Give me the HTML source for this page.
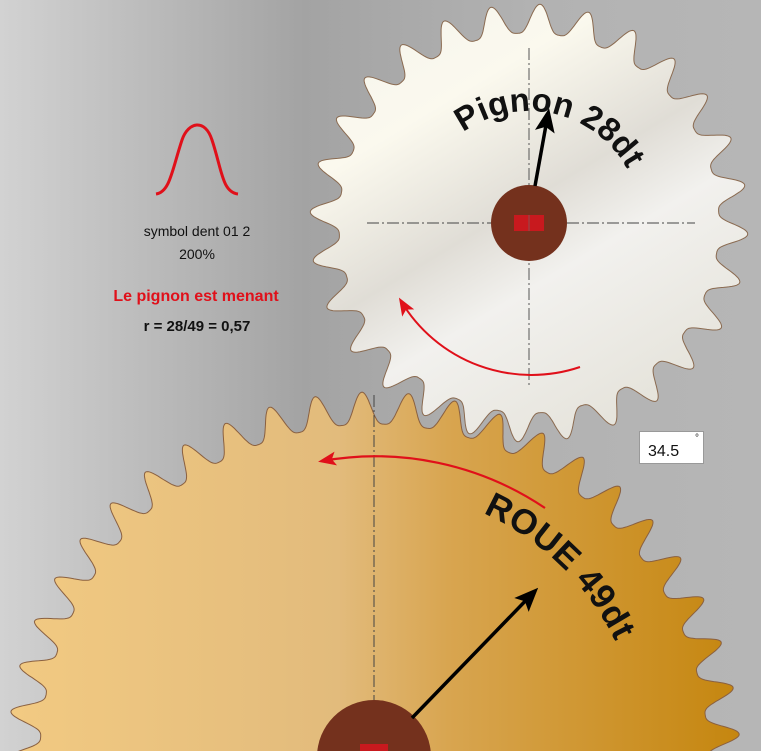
<!DOCTYPE html>
<html><head><meta charset="utf-8"><style>
html,body{margin:0;padding:0;width:761px;height:751px;overflow:hidden}
svg{display:block}
text{font-family:"Liberation Sans",sans-serif}
</style></head><body>
<svg id="s" width="761" height="751" viewBox="0 0 761 751" xmlns="http://www.w3.org/2000/svg">
<defs>
<linearGradient id="bg" x1="0" x2="1" y1="0" y2="0">
<stop offset="0" stop-color="#d2d2d2"/><stop offset="0.4" stop-color="#a3a3a3"/><stop offset="0.7" stop-color="#b2b2b2"/><stop offset="1" stop-color="#b6b6b6"/></linearGradient>
<linearGradient id="wg" gradientUnits="userSpaceOnUse" x1="10" y1="0" x2="740" y2="0">
<stop offset="0" stop-color="#f2ca82"/><stop offset="0.45" stop-color="#e2bb7c"/><stop offset="0.6" stop-color="#d8a550"/><stop offset="1" stop-color="#c5860f"/></linearGradient>
<linearGradient id="pg" x1="0" y1="0" x2="0.6" y2="1">
<stop offset="0" stop-color="#f4f3ec"/><stop offset="0.3" stop-color="#fbf9ee"/><stop offset="0.55" stop-color="#e0ddd6"/><stop offset="0.7" stop-color="#f2f1ee"/><stop offset="1" stop-color="#e6e4dc"/></linearGradient>
<marker id="ab" markerWidth="24" markerHeight="24" refX="18" refY="12" orient="auto" markerUnits="userSpaceOnUse" viewBox="0 0 24 24"><path d="M0,2 L24,12 L0,22 L5,12z" fill="#000"/></marker>
<marker id="ar" markerWidth="18" markerHeight="18" refX="14" refY="9" orient="auto" markerUnits="userSpaceOnUse" viewBox="0 0 18 18"><path d="M0,2 L18,9 L0,16 L4,9z" fill="#e0101a"/></marker>
</defs>
<rect width="761" height="751" fill="url(#bg)"/>
<path id="wheel" fill="url(#wg)" stroke="#8a6040" stroke-width="1"/>
<line x1="374" y1="395" x2="374" y2="751" stroke="#444" stroke-width="1" stroke-dasharray="12,3,2,3"/>
<path d="M545,508 A304,304 0 0 0 322,461" fill="none" stroke="#e0101a" stroke-width="2.2" marker-end="url(#ar)"/>
<circle cx="374" cy="757" r="57" fill="#74311d"/>
<rect x="360" y="744" width="28" height="10" fill="#c8191e"/>
<line x1="412" y1="718" x2="534" y2="592" stroke="#000" stroke-width="3.5" marker-end="url(#ab)"/>
<path id="warc" d="M483,513.2 A268,268 0 0 1 622.5,657.6" fill="none"/>
<text font-size="35" font-weight="bold" fill="#111"><textPath href="#warc" startOffset="0" textLength="188" lengthAdjust="spacing">ROUE 49dt</textPath></text>
<path id="pinion" fill="url(#pg)" stroke="#8a6a50" stroke-width="1"/>
<line x1="367" y1="223" x2="695" y2="223" stroke="#444" stroke-width="1" stroke-dasharray="12,3,2,3"/>
<line x1="529" y1="48" x2="529" y2="388" stroke="#555" stroke-width="1" stroke-dasharray="12,3,2,3"/>
<path d="M580,367 A152,152 0 0 1 401,301" fill="none" stroke="#e0101a" stroke-width="2" marker-end="url(#ar)"/>
<circle cx="529" cy="223" r="38" fill="#74311d"/>
<rect x="514" y="215" width="30" height="16" fill="#c8191e"/>
<line x1="529" y1="215" x2="529" y2="231" stroke="#8a5050" stroke-width="1"/>
<line x1="535" y1="186" x2="548" y2="114" stroke="#000" stroke-width="3.5" marker-end="url(#ab)"/>
<path id="parc" d="M463.2,132.4 A112,112 0 0 1 626,167" fill="none"/>
<text font-size="33" font-weight="bold" fill="#111"><textPath href="#parc" startOffset="0" textLength="190" lengthAdjust="spacing">Pignon 28dt</textPath></text>
<path d="M156,194 C170,192 172,170 182,140 C188,122 205,118 212,140 C222,170 222,192 238,194" fill="none" stroke="#e0101a" stroke-width="3"/>
<text x="197" y="236" font-size="14" text-anchor="middle" fill="#111">symbol dent 01 2</text>
<text x="197" y="259" font-size="14" text-anchor="middle" fill="#111">200%</text>
<text x="196" y="301" font-size="16" text-anchor="middle" fill="#e0101a" font-weight="bold">Le pignon est menant</text>
<text x="197" y="331" font-size="15" text-anchor="middle" fill="#111" font-weight="bold">r = 28/49 =  0,57</text>
<rect x="639.5" y="431.5" width="64" height="32" fill="#fff" stroke="#999"/>
<text x="648" y="456" font-size="16" fill="#111">34.5</text>
<text x="695" y="441" font-size="10" fill="#111">°</text>
</svg>
<script>
function gear(cx,cy,n,rt,rr,off){
  var p=[],N=n*40;
  for(var i=0;i<=N;i++){
    var a=i/N*2*Math.PI;
    var ph=(a-off)*n;
    var c=(1+Math.cos(ph))/2;
    var f=Math.pow(c,1.6);
    var r=rr+(rt-rr)*f;
    p.push((i?'L':'M')+(cx+r*Math.cos(a)).toFixed(1)+','+(cy+r*Math.sin(a)).toFixed(1));
  }
  return p.join('')+'Z';
}
var d2r=Math.PI/180;
document.getElementById('wheel').setAttribute('d',gear(374,758,49,366,334,(-90-1.9)*d2r));
document.getElementById('pinion').setAttribute('d',gear(529,223,28,219,190,(-90+2.9)*d2r));
</script>
</body></html>
